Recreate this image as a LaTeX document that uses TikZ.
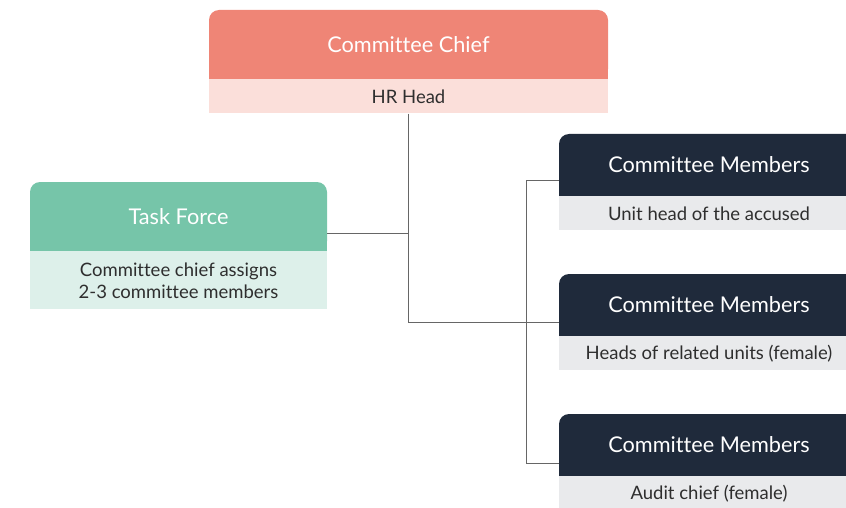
\documentclass[tikz,border=0pt]{standalone}
\usepackage{fontspec}
\setmainfont{Lato}[Ligatures=NoCommon]
\usetikzlibrary{positioning}
\definecolor{chiefred}{HTML}{EF8576}
\definecolor{chiefsoft}{HTML}{FBDFDA}
\definecolor{taskgreen}{HTML}{76C5A9}
\definecolor{tasksoft}{HTML}{DDF0EA}
\definecolor{navy}{HTML}{1F2A3B}
\definecolor{greysoft}{HTML}{E9EAEC}
\definecolor{ink}{HTML}{2E2E2E}
\definecolor{wire}{HTML}{666666}

\begin{document}
\begin{tikzpicture}[x=1pt, y=-1pt,
  node distance=0pt,
  head/.style={rectangle, rounded corners=10pt, fill=#1, inner sep=0pt,
               font=\fontsize{21.7}{26}\selectfont\color{white}},
  sub/.style={rectangle, fill=#1, inner sep=0pt, align=center,
              font=\fontsize{18.5}{22}\selectfont\color{ink}},
  link/.style={draw=wire, line width=1pt}
]
  \useasboundingbox (0,0) rectangle (846,508);

  % chief
  \node[head=chiefred, minimum width=399pt, minimum height=69pt] (chief) at (408.5,44.5) {Committee Chief};
  \node[sub=chiefsoft, minimum width=399pt, minimum height=34pt, below=of chief] (hr) {HR Head};

  % task force
  \node[head=taskgreen, minimum width=297pt, minimum height=69pt] (task) at (178.5,216.5) {Task Force};
  \node[sub=tasksoft, minimum width=297pt, minimum height=58pt, below=of task] (tasks)
    {Committee chief assigns\\2-3 committee members};

  % members
  \foreach \n/\y/\txt in {1/165/Unit head of the accused,
                          2/305/Heads of related units (female),
                          3/445/Audit chief (female)} {
    \node[head=navy, minimum width=300pt, minimum height=62pt] (m\n) at (709,\y) {Committee Members};
    \node[sub=greysoft, minimum width=300pt, minimum height=34pt, below=of m\n] (m\n s) {\txt};
  }

  % square off lower corners of the heads
  \foreach \h/\c in {chief/chiefred, task/taskgreen, m1/navy, m2/navy, m3/navy}
    \fill[\c] ([yshift=11pt]\h.south west) rectangle (\h.south east);

  % connectors
  \draw[link] (hr.south) |- ([yshift=14pt]m2.south west);
  \draw[link] ([yshift=18pt]task.south east) -| (hr.south);
  \draw[link] ([yshift=16pt]m1.south west) -- ++(-32,0) |- ([yshift=13pt]m3.south west);
\end{tikzpicture}
\end{document}
